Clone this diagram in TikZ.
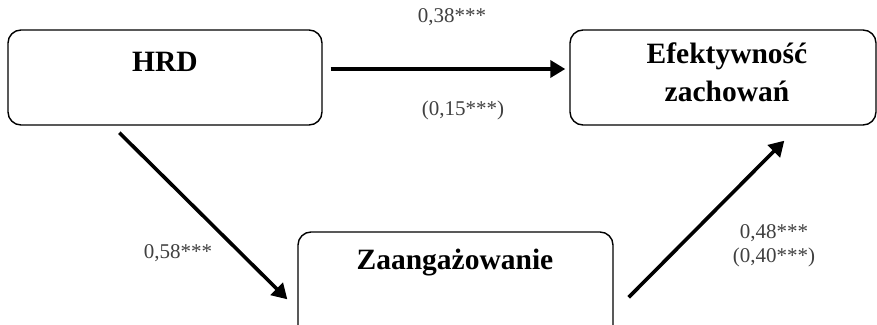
\documentclass[tikz,border=0pt]{standalone}
\usepackage{fontspec}
\setmainfont{Liberation Serif}
\usetikzlibrary{arrows.meta,calc}
\definecolor{labelgray}{HTML}{404040}
\begin{document}
\begin{tikzpicture}[x=1pt,y=-1pt,
  box/.style={draw=black, line width=1.4pt, rounded corners=13pt, inner sep=0pt},
  title/.style={font=\fontsize{29.5}{38}\selectfont\bfseries, align=center, inner sep=0pt},
  coef/.style={font=\fontsize{21}{24}\selectfont, text=labelgray, align=center, inner sep=0pt},
  arr/.style={line width=3.6pt, -{Triangle[length=15pt,width=17pt]}}
]
\useasboundingbox (0,0) rectangle (877,324);
\clip (0,0) rectangle (877,324);
% boxes
\node[box, minimum width=314pt, minimum height=95pt] (hrd) at (165,77.5) {};
\node[box, minimum width=306pt, minimum height=95pt] (eff) at (723,77.5) {};
\node[box, minimum width=315pt, minimum height=110pt] (zaa) at (455.5,287) {};
% titles
\node[title] (hrdt) at (165,62) {HRD};
\node[title] (efft) at (727,72) {Efektywność\\zachowań};
\node[title] (zaat) at (455,263) {Zaangażowanie};
% arrows
\draw[arr] ($(hrd.east)+(8,-8.5)$) -- ($(eff.west)+(-4,-8.5)$);
\draw[arr] ($(hrd.south west)+(112,7)$) -- ($(zaa.north west)+(-10,68)$);
\draw[arr] ($(zaa.north east)+(15,66)$) -- ($(eff.south west)+(215,15)$);
% coefficients
\node[coef] (c1) at (452,17) {0,38***};
\node[coef] (c2) at (463,110) {(0,15***)};
\node[coef] (c3) at (178,253) {0,58***};
\node[coef] (c4) at (774,246) {0,48***\\(0,40***)};
\end{tikzpicture}
\end{document}
